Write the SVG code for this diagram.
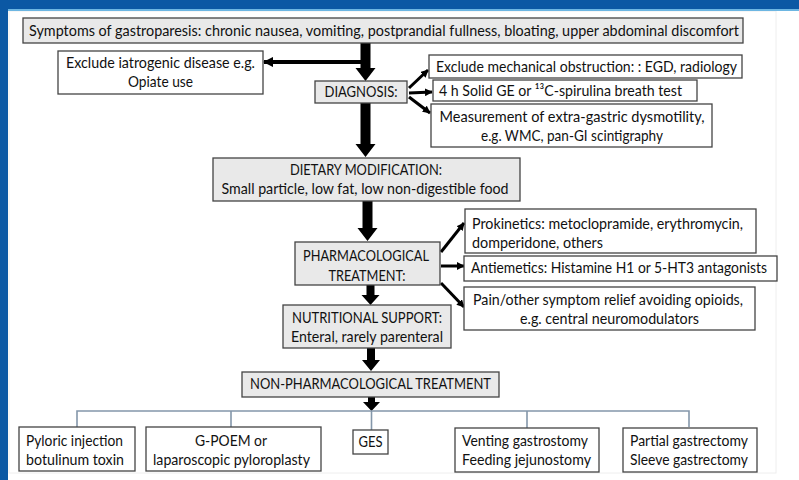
<svg xmlns="http://www.w3.org/2000/svg" width="799" height="480" viewBox="0 0 799 480">
<style>
.t{font-family:Lato,"Liberation Sans",sans-serif;font-size:15px;fill:#111}
.m{text-anchor:middle}
.g{fill:#e9e9e9;stroke:#444;stroke-width:1.3}
.w{fill:#fff;stroke:#444;stroke-width:1.3}
.blk{fill:#000}
.ln{stroke:#000;stroke-width:3;fill:none;marker-end:url(#ah)}
.tree{stroke:#8497aa;stroke-width:1.6;fill:none}
</style>
<defs>
<marker id="ah" viewBox="0 0 10 10" refX="9" refY="5" markerWidth="2.6" markerHeight="2.6" orient="auto" markerUnits="strokeWidth">
<path d="M0,0 L10,5 L0,10 z" fill="#000"/>
</marker>
</defs>
<rect x="0" y="0" width="799" height="480" fill="#fff"/>
<rect x="9" y="11" width="767" height="462" fill="#fff" stroke="#eeeeee" stroke-width="1"/>
<rect x="0" y="0" width="799" height="9" fill="#0b58a4"/>
<rect x="8" y="9" width="791" height="2" fill="#6db6e2"/>
<rect x="0" y="0" width="8" height="480" fill="#0b58a4"/>

<g id="connectors">
<polygon class="blk" points="360.5,43 370.5,43 370.5,68 375.5,68 365.5,81 355.5,68 360.5,68"/>
<line x1="361" y1="62" x2="264" y2="62" stroke="#000" stroke-width="4" marker-end="url(#ah)"/>
<polygon class="blk" points="360.5,103 370.5,103 370.5,144 375.5,144 365.5,157 355.5,144 360.5,144"/>
<polygon class="blk" points="362.5,201 372.5,201 372.5,228 377.5,228 367.5,241 357.5,228 362.5,228"/>
<polygon class="blk" points="366.5,285 374.5,285 374.5,295 379.5,295 370.5,305 361.5,295 366.5,295"/>
<polygon class="blk" points="367,348 375,348 375,360 380,360 371,371 362,360 367,360"/>
<polygon class="blk" points="368,397 375,397 375,402 380,402 371.5,411 363,402 368,402"/>
<line class="ln" x1="409" y1="88" x2="428" y2="70"/>
<line class="ln" x1="409" y1="93" x2="432" y2="92"/>
<line class="ln" x1="409" y1="97" x2="430" y2="113"/>
<line class="ln" x1="441" y1="252" x2="464" y2="223"/>
<line class="ln" x1="441" y1="266" x2="464" y2="266"/>
<line class="ln" x1="441" y1="283" x2="464" y2="307"/>
<path class="tree" d="M77,427 V411 H689 V427 M231,411 V427 M371.5,411 V430 M527,411 V428"/>
</g>

<g id="symptoms">
<rect class="g" x="23" y="18" width="720" height="25"/>
<text class="t m" x="384" y="36" textLength="710" lengthAdjust="spacingAndGlyphs">Symptoms of gastroparesis: chronic nausea, vomiting, postprandial fullness, bloating, upper abdominal discomfort</text>
</g>
<g id="iatrogenic">
<rect class="w" x="58" y="51" width="205" height="43"/>
<text class="t m" x="160.5" y="68" textLength="189" lengthAdjust="spacingAndGlyphs">Exclude iatrogenic disease e.g.</text>
<text class="t m" x="160.5" y="87" textLength="65" lengthAdjust="spacingAndGlyphs">Opiate use</text>
</g>
<g id="diagnosis">
<rect class="g" x="315" y="81" width="92" height="22"/>
<text class="t m" x="361" y="97" textLength="73" lengthAdjust="spacingAndGlyphs">DIAGNOSIS:</text>
</g>
<g id="mechanical">
<rect class="w" x="429" y="55" width="313" height="23"/>
<text class="t" x="436" y="72" textLength="301" lengthAdjust="spacingAndGlyphs">Exclude mechanical obstruction: : EGD, radiology</text>
</g>
<g id="breath">
<rect class="w" x="433" y="80" width="264" height="21"/>
<text class="t" x="439" y="96" textLength="243" lengthAdjust="spacingAndGlyphs">4 h Solid GE or ¹³C-spirulina breath test</text>
</g>
<g id="extragastric">
<rect class="w" x="431" y="104" width="281" height="43"/>
<text class="t m" x="572" y="122" textLength="265" lengthAdjust="spacingAndGlyphs">Measurement of extra-gastric dysmotility,</text>
<text class="t m" x="572" y="141" textLength="182" lengthAdjust="spacingAndGlyphs">e.g. WMC, pan-GI scintigraphy</text>
</g>
<g id="dietary">
<rect class="g" x="213" y="158" width="307" height="43"/>
<text class="t m" x="366" y="175" textLength="152" lengthAdjust="spacingAndGlyphs">DIETARY MODIFICATION:</text>
<text class="t m" x="365" y="194" textLength="287" lengthAdjust="spacingAndGlyphs">Small particle, low fat, low non-digestible food</text>
</g>
<g id="pharmacological">
<rect class="g" x="295" y="242" width="145" height="43"/>
<text class="t m" x="366" y="261" textLength="126" lengthAdjust="spacingAndGlyphs">PHARMACOLOGICAL</text>
<text class="t m" x="367" y="281" textLength="77" lengthAdjust="spacingAndGlyphs">TREATMENT:</text>
</g>
<g id="prokinetics">
<rect class="w" x="465" y="209" width="291" height="44"/>
<text class="t" x="472" y="229" textLength="271" lengthAdjust="spacingAndGlyphs">Prokinetics: metoclopramide, erythromycin,</text>
<text class="t" x="472" y="248" textLength="131" lengthAdjust="spacingAndGlyphs">domperidone, others</text>
</g>
<g id="antiemetics">
<rect class="w" x="464" y="256" width="313" height="25"/>
<text class="t" x="471" y="273" textLength="296" lengthAdjust="spacingAndGlyphs">Antiemetics: Histamine H1 or 5-HT3 antagonists</text>
</g>
<g id="pain">
<rect class="w" x="464" y="287" width="291" height="43"/>
<text class="t m" x="608" y="305" textLength="270" lengthAdjust="spacingAndGlyphs">Pain/other symptom relief avoiding opioids,</text>
<text class="t m" x="609.5" y="324" textLength="179" lengthAdjust="spacingAndGlyphs">e.g. central neuromodulators</text>
</g>
<g id="nutritional">
<rect class="g" x="283" y="305" width="168" height="43"/>
<text class="t m" x="367" y="323" textLength="150" lengthAdjust="spacingAndGlyphs">NUTRITIONAL SUPPORT:</text>
<text class="t m" x="367" y="342" textLength="152" lengthAdjust="spacingAndGlyphs">Enteral, rarely parenteral</text>
</g>
<g id="nonpharmacological">
<rect class="g" x="242" y="372" width="257" height="25"/>
<text class="t m" x="370.5" y="389" textLength="241" lengthAdjust="spacingAndGlyphs">NON-PHARMACOLOGICAL TREATMENT</text>
</g>
<g id="pyloric">
<rect class="w" x="19" y="427" width="116" height="44"/>
<text class="t" x="26" y="446" textLength="97" lengthAdjust="spacingAndGlyphs">Pyloric injection</text>
<text class="t" x="26" y="465" textLength="98" lengthAdjust="spacingAndGlyphs">botulinum toxin</text>
</g>
<g id="gpoem">
<rect class="w" x="146" y="427" width="175" height="44"/>
<text class="t m" x="231" y="446" textLength="72" lengthAdjust="spacingAndGlyphs">G-POEM or</text>
<text class="t m" x="231.5" y="465" textLength="157" lengthAdjust="spacingAndGlyphs">laparoscopic pyloroplasty</text>
</g>
<g id="ges">
<rect class="w" x="353" y="430" width="35" height="24"/>
<text class="t m" x="370.5" y="447" textLength="24" lengthAdjust="spacingAndGlyphs">GES</text>
</g>
<g id="venting">
<rect class="w" x="455" y="428" width="144" height="44"/>
<text class="t" x="462" y="446" textLength="126" lengthAdjust="spacingAndGlyphs">Venting gastrostomy</text>
<text class="t" x="462" y="465" textLength="129" lengthAdjust="spacingAndGlyphs">Feeding jejunostomy</text>
</g>
<g id="gastrectomy">
<rect class="w" x="623" y="428" width="134" height="44"/>
<text class="t" x="630" y="446" textLength="118" lengthAdjust="spacingAndGlyphs">Partial gastrectomy</text>
<text class="t" x="630" y="465" textLength="118" lengthAdjust="spacingAndGlyphs">Sleeve gastrectomy</text>
</g>
</svg>
